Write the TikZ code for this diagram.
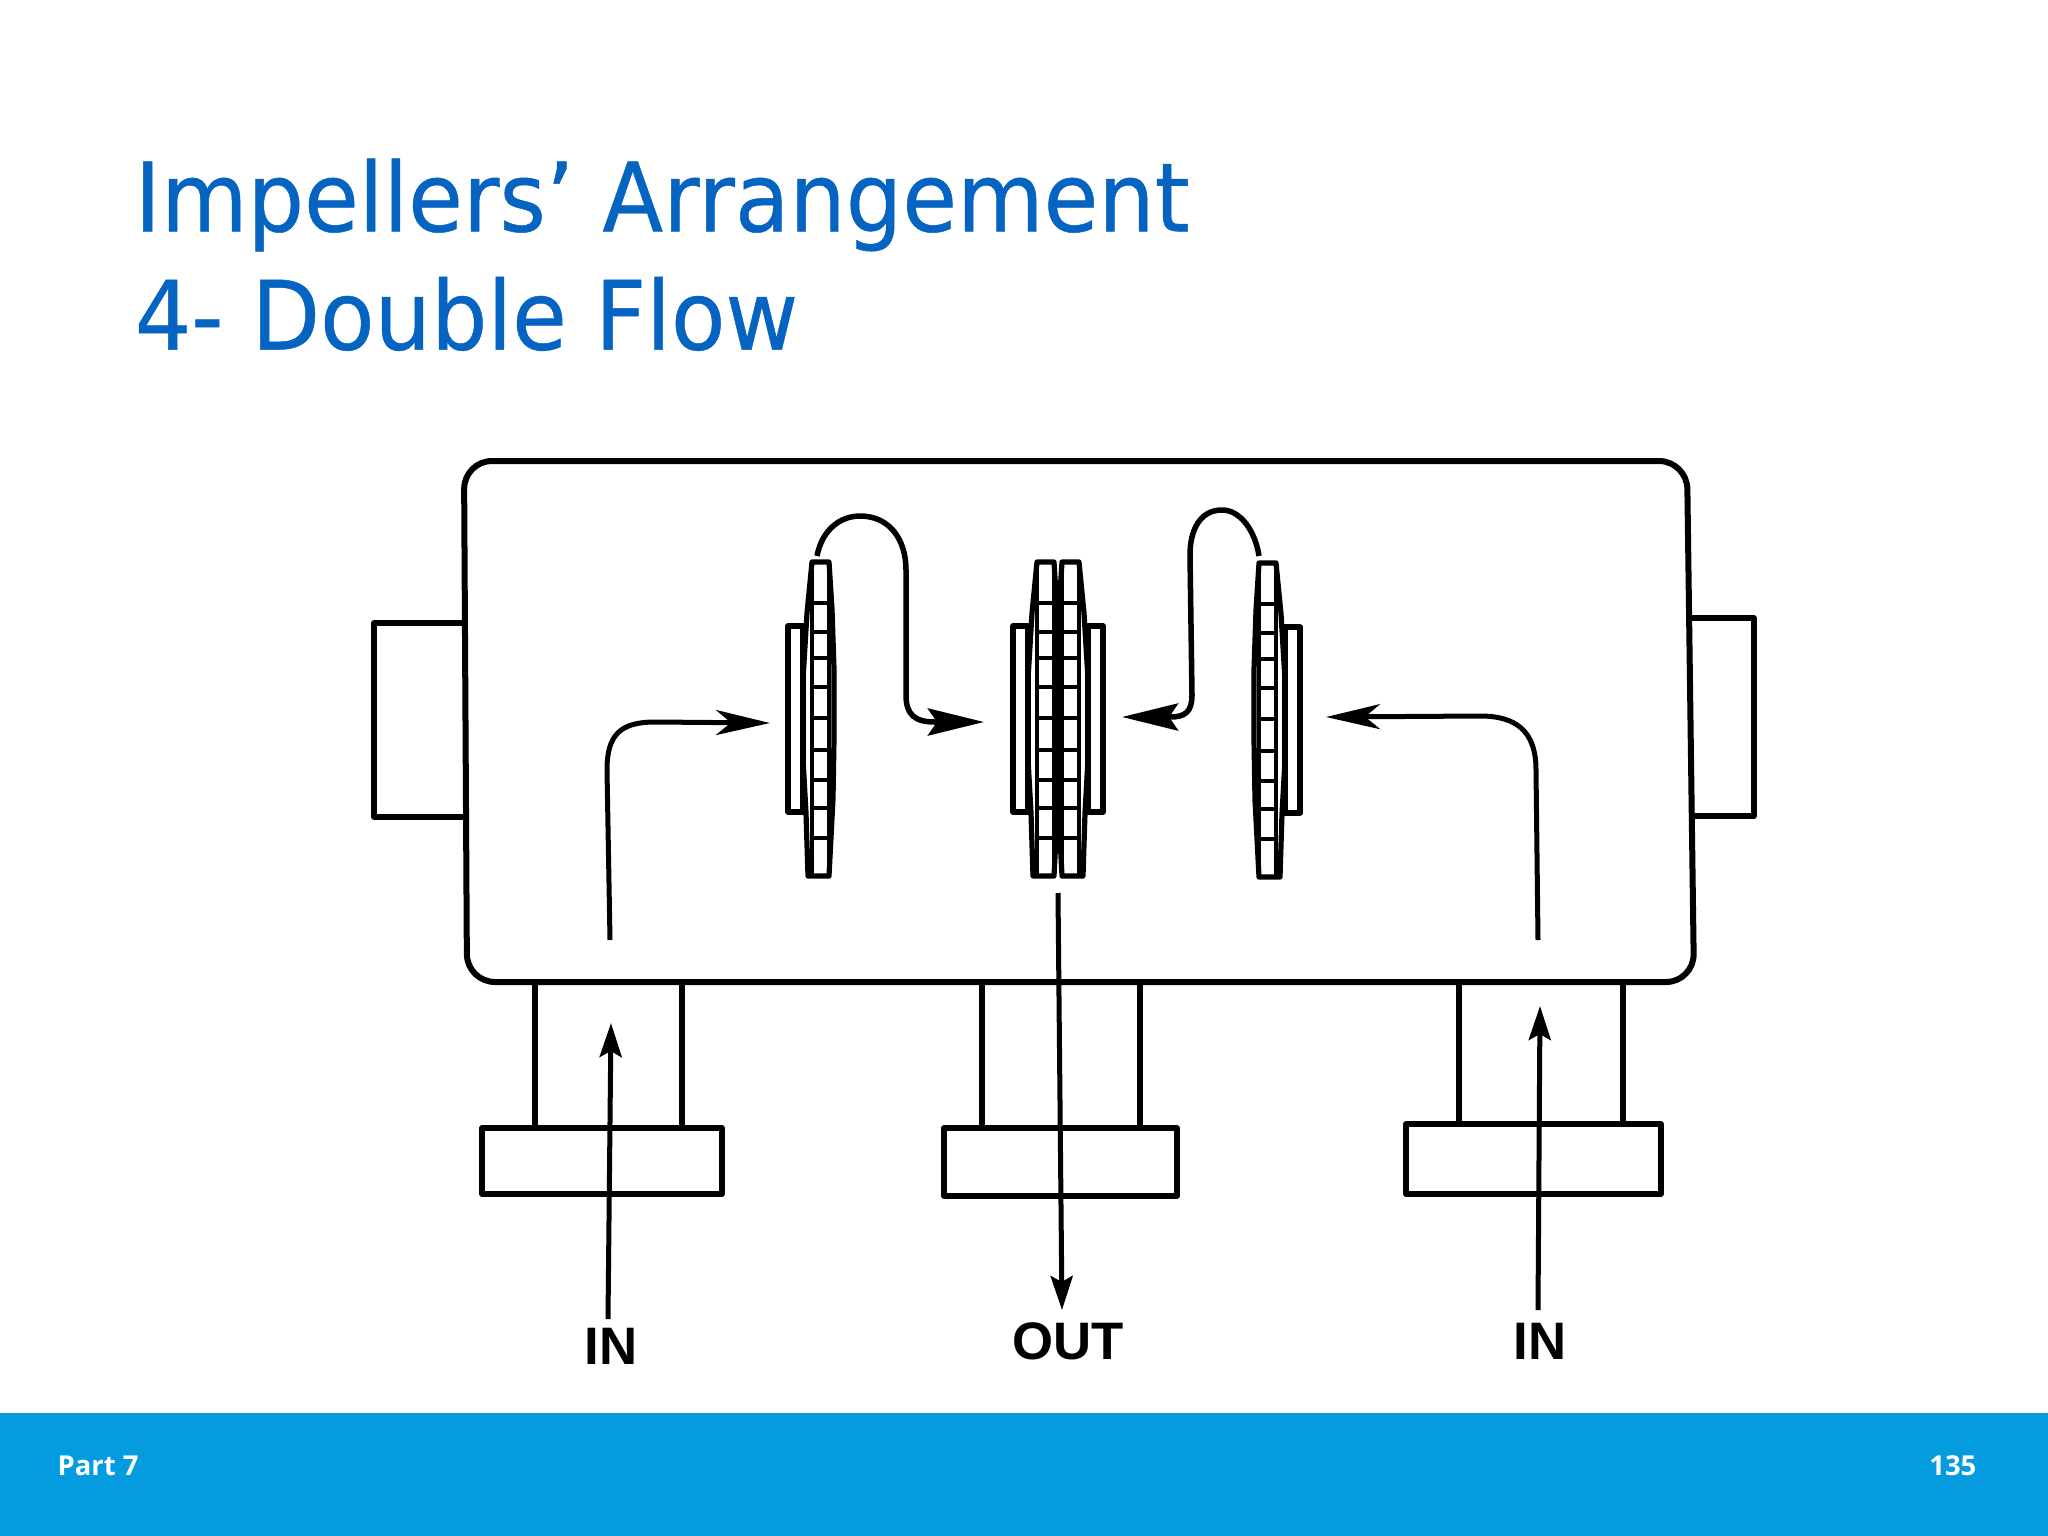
\documentclass[tikz,border=0pt]{standalone}
\usepackage{xcolor}
\usepackage{fontspec}
\setmainfont{Noto Sans}
\newfontfamily\titlefont[FakeStretch=0.93,FakeBold=0.5]{DejaVu Sans}
\newfontfamily\footfont{Open Sans}
\newfontfamily\labelfont{Liberation Sans}
\usetikzlibrary{calc,arrows.meta,positioning}
\definecolor{titlec}{HTML}{0563C1}
\definecolor{barc}{HTML}{059BDF}
\tikzset{
  wall/.style={line width=0.6mm,black,line join=round},
  part/.style={line width=0.52mm,black,line join=round},
  vane/.style={line width=0.36mm,black},
  flow/.style={line width=0.5mm,black,-{Stealth[length=5.4mm,width=2.5mm,inset=1.5mm]}},
  heavyflow/.style={line width=0.55mm,black,-{Stealth[length=5.6mm,width=2.7mm,inset=0.9mm]}},
  pipeflow/.style={line width=0.5mm,black,-{Stealth[length=3.4mm,width=2.2mm,inset=0.6mm]}},
  titletxt/.style={font=\titlefont\fontsize{27.2pt}{33.6pt}\selectfont,text=titlec,align=left,anchor=north west,inner sep=0pt},
  foottxt/.style={font=\footfont\fontsize{7.8pt}{9pt}\selectfont\bfseries,text=white,inner sep=0pt},
  porttxt/.style={font=\labelfont\fontsize{15pt}{16pt}\selectfont\bfseries,inner sep=0pt},
  impeller/.pic={
    \draw[part] (-33,-93) rectangle (-18,93);
    \draw[part] (-9,-157)--(-14,-106)--(-18,-40)--(-18,40)--(-15,94)--(-13,157)--(8,157)--(12,80)--(13,20)--(13,-50)--(11,-110)--(8,-157)--cycle;
    \draw[vane] (-9,-157) rectangle (8,157);
    \foreach \yy in {-116,-87,-61,-32,-1,31,61,89,119}
      \draw[vane] (-9,\yy)--(8,\yy);
  }
}

\begin{document}
\begin{tikzpicture}[x=0.01cm,y=-0.01cm]
\useasboundingbox (0,0) rectangle (2048,1536);
\fill[barc] (0,1413) rectangle (2048,1536);
\node[titletxt] (title) at (134,158) {Impellers’ Arrangement\\4- Double Flow};
\node[foottxt,anchor=west] (part) at (57,1466) {Part 7};
\node[foottxt,anchor=east] (page) at (1977,1466) {135};
% casing and stubs
\draw[wall,rounded corners=0.28cm] (464,461)--(1687,461)--(1694,982)--(467,982)--cycle;
\draw[part] (464,623)--(374,623)--(374,817)--(464,817);
\draw[part] (1689,618)--(1754,618)--(1754,816)--(1691,816);
% pipes and flanges
\draw[part] (535,982)--(535,1128) (682,982)--(682,1128);
\draw[part] (482,1128) rectangle (722,1194);
\draw[part] (982,982)--(982,1128) (1140,982)--(1140,1128);
\draw[part] (944,1128) rectangle (1177,1196);
\draw[part] (1459,982)--(1459,1124) (1623,982)--(1623,1124);
\draw[part] (1406,1124) rectangle (1661,1194);
% impellers
\pic at (821,719) {impeller};
\pic at (1046,719) {impeller};
\pic[xscale=-1] at (1070,719) {impeller};
\pic[xscale=-1] at (1267,720) {impeller};
% labels
\node[porttxt] (inl) at (611,1346) {IN};
\node[porttxt] (out) at (1068,1341) {OUT};
\node[porttxt] (inr) at (1540,1341) {IN};
% flow
\coordinate (a1) at (610,940); \coordinate (a2) at (770,723);
\coordinate (b1) at (1538,940); \coordinate (b2) at (1326,717);
\coordinate (c1) at (817,556); \coordinate (c2) at (984,722);
\coordinate (d1) at (1259,556); \coordinate (d2) at (1122,717);
\coordinate (e1) at (1058,893); \coordinate (e2) at (1062,1310);
\coordinate (f1) at (608,1319); \coordinate (f2) at (611,1023);
\coordinate (g1) at (1538,1310); \coordinate (g2) at (1540,1006);
\draw[flow] (a1)--(607,770) .. controls (607,735) and (620,722) .. (655,722)--(a2);
\draw[flow] (b1)--(1536,770) .. controls (1536,730) and (1515,716) .. (1480,716)--(b2);
\draw[heavyflow] (c1) .. controls (822,530) and (840,516) .. (860,516) .. controls (890,516) and (906,540) .. (906,570)--(906,695) .. controls (906,715) and (915,722) .. (935,722)--(c2);
\draw[heavyflow] (d1) .. controls (1255,530) and (1240,510) .. (1222,510) .. controls (1200,510) and (1190,530) .. (1190,555)--(1192,695) .. controls (1192,712) and (1185,717) .. (1170,717)--(d2);
\draw[pipeflow] (e1)--(e2);
\draw[pipeflow] (f1)--(f2);
\draw[pipeflow] (g1)--(g2);
\end{tikzpicture}
\end{document}
